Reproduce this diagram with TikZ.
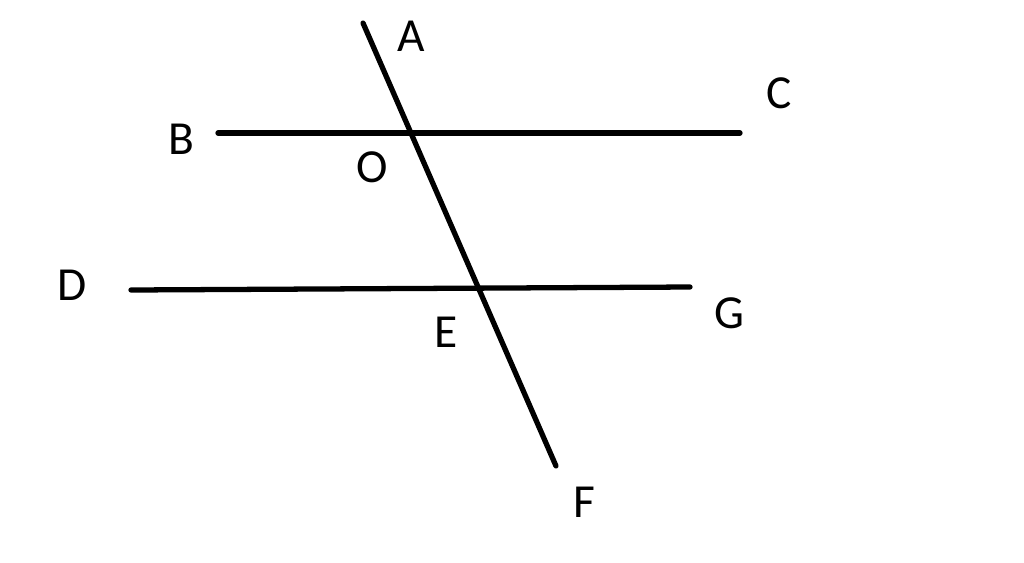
\documentclass[tikz,border=0pt]{standalone}
\usepackage{fontspec}
\setmainfont{Carlito}
\begin{document}
\begin{tikzpicture}[x=0.02cm, y=-0.02cm,
    seg/.style={line width=3pt, line cap=round},
    lbl/.style={font=\fontsize{27}{30}\selectfont, inner sep=0pt}]
    \useasboundingbox (0,0) rectangle (1024,562);
    % points
    \coordinate (a) at (363,23);
    \coordinate (f) at (556,466);
    \coordinate (b) at (218,133);
    \coordinate (c) at (740,133);
    \coordinate (d) at (131,290);
    \coordinate (g) at (690,287);

    % lines
    \draw[seg] (a) -- (f);
    \draw[seg] (b) -- (c);
    \draw[seg] (d) -- (g);

    % labels
    \node[lbl] (la) at (411,36) {A};
    \node[lbl] (lb) at (181,139) {B};
    \node[lbl] (lc) at (779,93) {C};
    \node[lbl] (lo) at (372,167) {O};
    \node[lbl] (ld) at (72,285) {D};
    \node[lbl] (le) at (446,332) {E};
    \node[lbl] (lg) at (729,313) {G};
    \node[lbl] (lf) at (584,502) {F};
\end{tikzpicture}
\end{document}
